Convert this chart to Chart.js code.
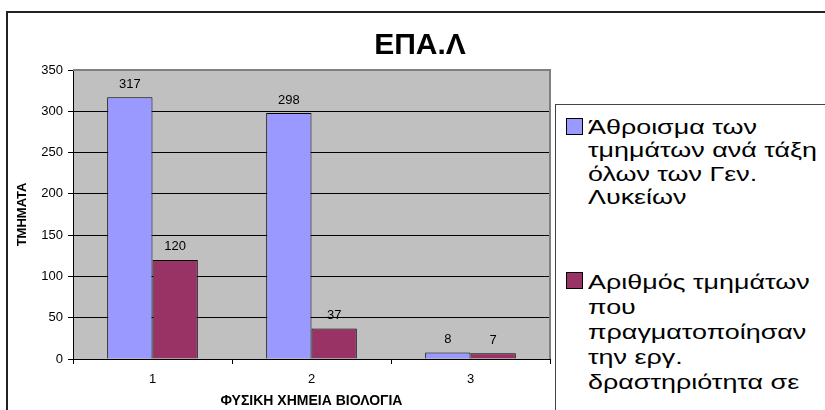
<!DOCTYPE html>
<html>
<head>
<meta charset="utf-8">
<script src="https://cdn.jsdelivr.net/npm/chart.js@4"></script>
<style>
  body { margin: 0; background: #fff; overflow: hidden; }
  #wrap { position: relative; width: 825px; height: 410px; overflow: hidden; }
  #frame { position: absolute; left: 6px; top: 11px; width: 900px; height: 500px;
           border-left: 2px solid #222; border-top: 2px solid #222; }
  #chartId { position: absolute; left: 0; top: 0; }
  #legend { position: absolute; left: 555px; top: 104px; width: 320px; height: 400px;
            border: 1px solid #444; background: #fff; font-family: Arial, "Liberation Sans", sans-serif;
            font-size: 21px; color: #000; }
  .item { position: relative; padding-left: 32px; white-space: nowrap; }
  .item div { transform: scaleX(1.28); transform-origin: left center; }
  .swatch { position: absolute; left: 10px; top: 3px; width: 15px; height: 15px; border: 1px solid #000; }
</style>
</head>
<body>
<div id="wrap">
  <div id="frame"></div>
  <canvas id="chartId" width="825" height="410"></canvas>
  <div id="legend"></div>
</div>
<script>
var title = "ΕΠΑ.Λ";
var categories = ["1", "2", "3"];
var totalClasses = [317, 298, 8];
var activityClasses = [120, 37, 7];
var legendLines = [
    ["Άθροισμα των", "τμημάτων ανά τάξη", "όλων των Γεν.", "Λυκείων"],
    ["Αριθμός τμημάτων", "που", "πραγματοποίησαν", "την εργ.", "δραστηριότητα σε"]
];
var colors = ['#9999FF', '#993366'];
var yTitle = "ΤΜΗΜΑΤΑ";
var xTitle = "ΦΥΣΙΚΗ ΧΗΜΕΙΑ ΒΙΟΛΟΓΙΑ";

var plotBack = {
    id: 'plotBack',
    beforeDraw: function(chart) {
        var a = chart.chartArea;
        var ctx = chart.ctx;
        ctx.save();
        ctx.fillStyle = '#C0C0C0';
        ctx.fillRect(a.left, a.top, a.right - a.left, a.bottom - a.top);
        ctx.restore();
    },
    beforeDatasetsDraw: function(chart) {
        var a = chart.chartArea;
        var ctx = chart.ctx;
        ctx.save();
        ctx.strokeStyle = '#808080';
        ctx.lineWidth = 2;
        ctx.beginPath();
        ctx.moveTo(a.left, a.top);
        ctx.lineTo(a.right, a.top);
        ctx.lineTo(a.right, a.bottom);
        ctx.stroke();
        ctx.restore();
    },
    afterDatasetsDraw: function(chart) {
        var ctx = chart.ctx;
        ctx.save();
        ctx.font = '13px Arial, "Liberation Sans", sans-serif';
        ctx.fillStyle = '#000';
        ctx.textAlign = 'center';
        ctx.textBaseline = 'middle';
        chart.data.datasets.forEach(function(ds, i) {
            chart.getDatasetMeta(i).data.forEach(function(bar, j) {
                ctx.fillText(ds.data[j], bar.x, bar.y - 13);
            });
        });
        // title
        ctx.font = 'bold 30px Arial, "Liberation Sans", sans-serif';
        ctx.fillText(title, 420, 46);
        ctx.restore();
    }
};

var chartId = new Chart(document.getElementById("chartId").getContext("2d"), {
    type: 'bar',
    data: {
        labels: categories,
        datasets: [{
            label: legendLines[0].join(' '),
            data: totalClasses,
            backgroundColor: colors[0],
            borderColor: '#000',
            borderWidth: 1
        }, {
            label: legendLines[1].join(' '),
            data: activityClasses,
            backgroundColor: colors[1],
            borderColor: '#000',
            borderWidth: 1
        }]
    },
    options: {
        responsive: false,
        animation: false,
        categoryPercentage: 0.57,
        barPercentage: 1.0,
        layout: { padding: { left: 15, right: 275, top: 70, bottom: 0 } },
        plugins: {
            legend: { display: false },
            title: { display: false },
            tooltip: { enabled: false }
        },
        scales: {
            x: {
                afterFit: function(s) { s.height = 51; },
                grid: { drawOnChartArea: false, color: '#000', tickLength: 5, offset: true },
                border: { color: '#000', width: 1 },
                ticks: { color: '#000', padding: 8, font: { family: 'Arial, "Liberation Sans", sans-serif', size: 13 } },
                title: { display: true, text: xTitle, color: '#000', padding: 0,
                         font: { family: 'Arial, "Liberation Sans", sans-serif', size: 14, weight: 'bold' } }
            },
            y: {
                min: 0,
                max: 350,
                afterFit: function(s) { s.width = 58; },
                grid: { color: '#000', tickLength: 5 },
                border: { color: '#000', width: 1 },
                ticks: { stepSize: 50, color: '#000', padding: 5, font: { family: 'Arial, "Liberation Sans", sans-serif', size: 13 } },
                title: { display: true, text: yTitle, color: '#000', padding: 0,
                         font: { family: 'Arial, "Liberation Sans", sans-serif', size: 13, weight: 'bold' } }
            }
        }
    },
    plugins: [plotBack]
});

// html legend from the datasets
var legend = document.getElementById("legend");
var lineHeights = [23.3, 25];
var gaps = [10, 61];
chartId.data.datasets.forEach(function(ds, i) {
    var item = document.createElement("div");
    item.className = "item";
    item.style.marginTop = gaps[i] + "px";
    item.style.lineHeight = lineHeights[i] + "px";
    var sw = document.createElement("span");
    sw.className = "swatch";
    sw.style.background = ds.backgroundColor;
    item.appendChild(sw);
    legendLines[i].forEach(function(line) {
        var d = document.createElement("div");
        d.textContent = line;
        item.appendChild(d);
    });
    legend.appendChild(item);
});
</script>
</body>
</html>
